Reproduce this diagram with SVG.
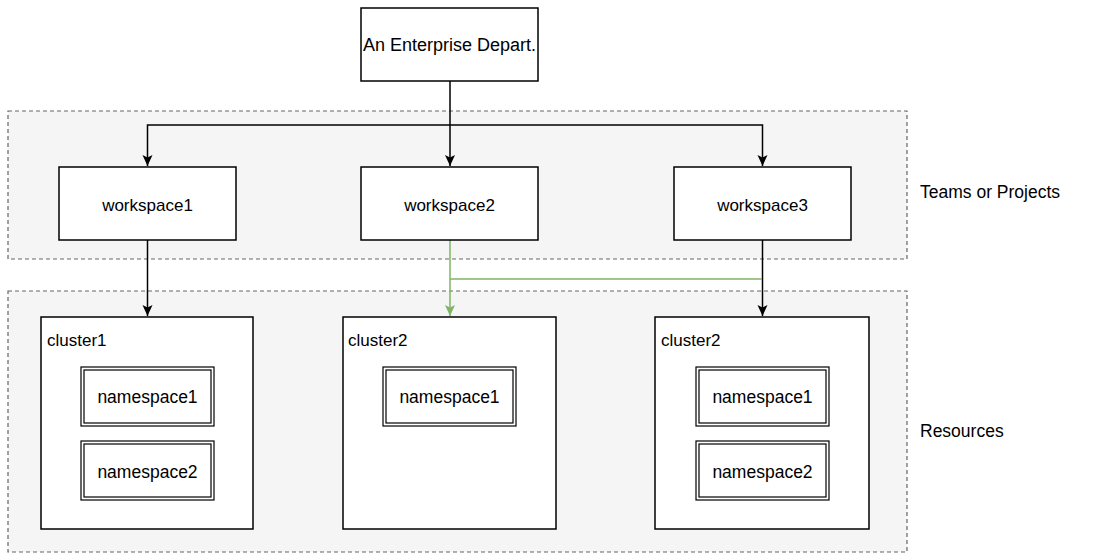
<svg xmlns="http://www.w3.org/2000/svg" width="1112" height="559" viewBox="0 0 1112 559">
<style>
.box{fill:#fff;stroke:#000;stroke-width:1.5}
.ns{fill:#fff;stroke:#000;stroke-width:1.2}
.cont{fill:#f5f5f5;stroke:#666;stroke-width:1.2;stroke-dasharray:4 3}
.t{font-family:"Liberation Sans",Arial,sans-serif;fill:#000}
.e{fill:none;stroke:#000;stroke-width:1.5}
.g{fill:none;stroke:#82b366;stroke-width:1.5}
</style>
<defs>
<marker id="ab" markerUnits="userSpaceOnUse" markerWidth="13" markerHeight="13" viewBox="0 0 13 13" refX="12" refY="6.5" orient="auto">
<path d="M1,1.5 L12,6.5 L1,11.5 L3.5,6.5 Z" fill="#000"/>
</marker>
<marker id="ag" markerUnits="userSpaceOnUse" markerWidth="13" markerHeight="13" viewBox="0 0 13 13" refX="12" refY="6.5" orient="auto">
<path d="M1,1.5 L12,6.5 L1,11.5 L3.5,6.5 Z" fill="#82b366"/>
</marker>
</defs>
<g id="teams-container">
<rect class="cont" x="8" y="111" width="899" height="148"/>
<text class="t" x="920" y="198" font-size="17.5">Teams or Projects</text>
</g>
<g id="resources-container">
<rect class="cont" x="8" y="291" width="899" height="261"/>
<text class="t" x="920" y="437" font-size="17.5">Resources</text>
</g>
<g id="connectors">
<path class="e" d="M450,81 V166" marker-end="url(#ab)"/>
<path class="e" d="M450,125 H147.5 V166" marker-end="url(#ab)"/>
<path class="e" d="M450,125 H762.5 V166" marker-end="url(#ab)"/>
<path class="e" d="M147.5,240 V316" marker-end="url(#ab)"/>
<path class="e" d="M762.5,240 V316" marker-end="url(#ab)"/>
<path class="g" d="M450,240 V316" marker-end="url(#ag)"/>
<path class="g" d="M450,279 H762"/>
</g>
<g id="dept">
<rect class="box" x="361" y="8" width="177" height="73"/>
<text class="t" x="449.5" y="51" font-size="18" text-anchor="middle">An Enterprise Depart.</text>
</g>
<g id="workspace1">
<rect class="box" x="59" y="167" width="177" height="73"/>
<text class="t" x="147.5" y="211" font-size="17" text-anchor="middle">workspace1</text>
</g>
<g id="workspace2">
<rect class="box" x="361" y="167" width="177" height="73"/>
<text class="t" x="449.5" y="211" font-size="17" text-anchor="middle">workspace2</text>
</g>
<g id="workspace3">
<rect class="box" x="674" y="167" width="177" height="73"/>
<text class="t" x="762.5" y="211" font-size="17" text-anchor="middle">workspace3</text>
</g>
<g id="cluster1">
<rect class="box" x="41" y="317" width="212" height="212"/>
<text class="t" x="47" y="346" font-size="17">cluster1</text>
</g>
<g id="cluster1-ns1">
<rect class="ns" x="81" y="367" width="133" height="59"/>
<rect class="ns" x="84" y="370" width="127" height="53"/>
<text class="t" x="147.5" y="403" font-size="17.5" text-anchor="middle">namespace1</text>
</g>
<g id="cluster1-ns2">
<rect class="ns" x="81" y="441" width="133" height="59"/>
<rect class="ns" x="84" y="444" width="127" height="53"/>
<text class="t" x="147.5" y="478" font-size="17.5" text-anchor="middle">namespace2</text>
</g>
<g id="cluster2-mid">
<rect class="box" x="343" y="317" width="213" height="212"/>
<text class="t" x="348" y="346" font-size="17">cluster2</text>
</g>
<g id="cluster2-mid-ns1">
<rect class="ns" x="383" y="367" width="133" height="59"/>
<rect class="ns" x="386" y="370" width="127" height="53"/>
<text class="t" x="449.5" y="403" font-size="17.5" text-anchor="middle">namespace1</text>
</g>
<g id="cluster2-right">
<rect class="box" x="655" y="317" width="214" height="212"/>
<text class="t" x="661" y="346" font-size="17">cluster2</text>
</g>
<g id="cluster2-right-ns1">
<rect class="ns" x="696" y="367" width="133" height="59"/>
<rect class="ns" x="699" y="370" width="127" height="53"/>
<text class="t" x="762.5" y="403" font-size="17.5" text-anchor="middle">namespace1</text>
</g>
<g id="cluster2-right-ns2">
<rect class="ns" x="696" y="441" width="133" height="59"/>
<rect class="ns" x="699" y="444" width="127" height="53"/>
<text class="t" x="762.5" y="478" font-size="17.5" text-anchor="middle">namespace2</text>
</g>
</svg>
